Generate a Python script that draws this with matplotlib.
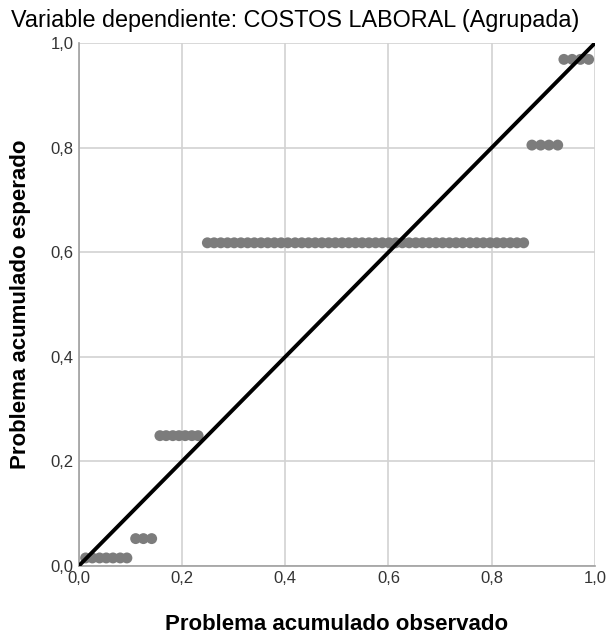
import matplotlib
matplotlib.use("Agg")
import matplotlib.pyplot as plt
from matplotlib.ticker import FuncFormatter

plt.rcParams['font.family'] = ['Liberation Sans', 'DejaVu Sans']

# probabilidad acumulada observada, por grupo
obs_g1 = [0.013, 0.026, 0.040, 0.053, 0.066, 0.080, 0.093]
obs_g2 = [0.110, 0.125, 0.141]
obs_g3 = [0.157, 0.169, 0.182, 0.194, 0.206, 0.219, 0.231]
obs_g4 = [0.249, 0.262, 0.275, 0.288, 0.301, 0.314, 0.327, 0.340, 0.353, 0.366,
          0.379, 0.392, 0.405, 0.419, 0.432, 0.445, 0.458, 0.471, 0.484, 0.497,
          0.510, 0.523, 0.536, 0.549, 0.562, 0.575, 0.588, 0.601, 0.614, 0.627,
          0.640, 0.653, 0.666, 0.679, 0.692, 0.705, 0.718, 0.731, 0.744, 0.758,
          0.771, 0.784, 0.797, 0.810, 0.823, 0.836, 0.849, 0.862]
obs_g5 = [0.878, 0.895, 0.911, 0.928]
obs_g6 = [0.940, 0.956, 0.972, 0.988]

# probabilidad acumulada esperada de cada grupo
esp_niveles = [0.015, 0.052, 0.249, 0.618, 0.805, 0.969]

ticks = [0.0, 0.2, 0.4, 0.6, 0.8, 1.0]

grupos = [obs_g1, obs_g2, obs_g3, obs_g4, obs_g5, obs_g6]
x = []
y = []
for g, nivel in zip(grupos, esp_niveles):
    x += g
    y += [nivel] * len(g)

fig = plt.figure(figsize=(6.07, 6.35), dpi=100)
ax = fig.add_axes([0.130, 0.109, 0.850, 0.823])

ax.grid(True, color='#d2d2d2', linewidth=1.2)
ax.set_axisbelow(True)

ax.scatter(x, y, s=62, color='#7c7c7c', edgecolors='none', zorder=2)
ax.plot([0, 1], [0, 1], color='black', linewidth=2.8, zorder=3)

ax.set_xlim(0, 1)
ax.set_ylim(0, 1)
ax.set_xticks(ticks)
ax.set_yticks(ticks)
fmt = FuncFormatter(lambda v, p: ("%.1f" % v).replace(".", ","))
ax.xaxis.set_major_formatter(fmt)
ax.yaxis.set_major_formatter(fmt)
ax.tick_params(length=0, labelsize=12, labelcolor='#333333', pad=4)

for s in ['top', 'right']:
    ax.spines[s].set_visible(False)
for s in ['left', 'bottom']:
    ax.spines[s].set_color('#a0a0a0')
    ax.spines[s].set_linewidth(1.2)

ax.set_xlabel('Problema acumulado observado', fontsize=16, fontweight='bold', labelpad=20)
ax.set_ylabel('Problema acumulado esperado', fontsize=16, fontweight='bold', labelpad=14)

fig.text(0.018, 0.968, 'Variable dependiente: COSTOS LABORAL (Agrupada)',
         fontsize=16.8, ha='left', va='center')

plt.savefig('out.png', dpi=100)
